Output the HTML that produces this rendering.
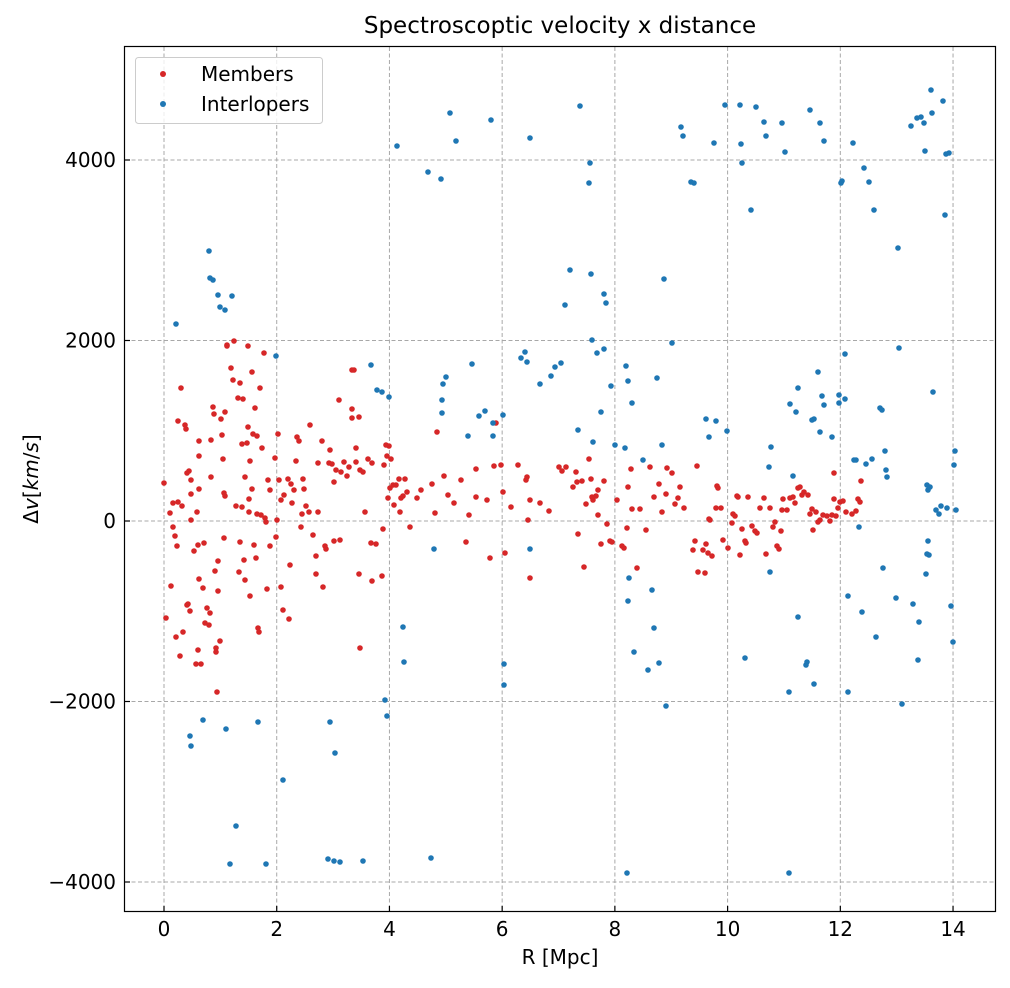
<!DOCTYPE html>
<html><head><meta charset="utf-8"><style>
body{margin:0;background:#fff;}
svg text{font-family:"DejaVu Sans","Liberation Sans",sans-serif;fill:#000;}
</style></head><body>
<svg id="s" width="1010" height="983" xmlns="http://www.w3.org/2000/svg">
<rect width="1010" height="983" fill="#fff"/>
<g id="grid" stroke="#a8a8a8" stroke-width="1" stroke-dasharray="4,2.5"></g>
<g id="pts"></g>
<rect x="124.5" y="46.5" width="871" height="865" fill="none" stroke="#000" stroke-width="1.2"/>
<g id="ticks" stroke="#000" stroke-width="1.2"></g>
<g id="labels" font-size="20"></g>
<text x="560" y="33" font-size="23" text-anchor="middle">Spectroscoptic velocity x distance</text>
<text x="560" y="964" font-size="20" text-anchor="middle">R [Mpc]</text>
<text transform="translate(38,479) rotate(-90)" font-size="20" text-anchor="middle">Δ<tspan font-style="italic">v</tspan>[<tspan font-style="italic">km</tspan>/<tspan font-style="italic">s</tspan>]</text>
<rect x="135.5" y="57.5" width="187" height="66" rx="3" fill="#fff" fill-opacity="0.8" stroke="#ccc"/>
<circle cx="163" cy="74" r="3" fill="#d62728"/>
<circle cx="163" cy="104" r="3" fill="#1f77b4"/>
<text x="201" y="81" font-size="20">Members</text>
<text x="201" y="111" font-size="20">Interlopers</text>
</svg>
<script>
var NS="http://www.w3.org/2000/svg";
function el(p,t,a){var e=document.createElementNS(NS,t);for(var k in a)e.setAttribute(k,a[k]);p.appendChild(e);return e;}
var g=document.getElementById('grid'),tk=document.getElementById('ticks'),lb=document.getElementById('labels');
function X(v){return 164+v*56.36;} function Y(v){return 521-v*0.09025;}
for(var v=0;v<=14;v+=2){var x=X(v);el(g,'line',{x1:x,x2:x,y1:47,y2:911});el(tk,'line',{x1:x,x2:x,y1:912,y2:906});var t=el(lb,'text',{x:x,y:936,'text-anchor':'middle'});t.textContent=v;}
for(var v=-4000;v<=4000;v+=2000){var y=Y(v);el(g,'line',{x1:125,x2:995,y1:y,y2:y});el(tk,'line',{x1:124,x2:130,y1:y,y2:y});var t=el(lb,'text',{x:116,y:y+7,'text-anchor':'end'});t.textContent=(v<0?'\u2212'+(-v):v);}
var B=[176,324,190,736,191,746,203,720,209,251,210,278,213,280,218,295,220,307,225,310,226,729,232,296,230,864,236,826,258,722,266,864,276,356,283,780,330,722,328,859,334,861,340,862,335,753,363,861,371,365,377,390,382,392,389,397,385,700,387,716,397,146,403,627,404,662,428,172,431,858,434,549,441,179,442,400,442,413,443,384,446,377,450,113,456,141,468,436,472,364,479,416,485,411,491,120,493,423,493,436,503,415,504,664,504,685,521,358,525,352,527,362,530,138,530,549,540,384,551,376,555,367,561,363,565,305,570,270,578,430,580,106,589,183,590,163,591,274,592,340,593,442,597,353,601,412,604,294,604,349,606,303,611,386,615,445,625,448,626,366,627,873,628,381,628,601,629,578,632,403,634,652,643,460,648,670,652,590,654,628,657,378,659,663,662,445,664,279,666,706,672,343,681,127,683,136,691,182,694,183,706,419,709,437,714,143,716,421,725,105,727,431,740,105,741,144,742,163,745,658,751,210,756,107,764,122,766,136,769,467,770,572,771,447,782,123,785,152,789,692,789,873,790,404,793,476,796,412,798,388,798,617,806,665,807,662,810,110,812,420,814,419,814,684,818,372,820,123,820,432,822,396,824,141,824,405,832,437,839,403,839,395,841,183,842,181,845,354,845,399,848,596,848,692,853,143,854,460,856,460,859,527,862,612,864,168,866,464,869,182,872,459,874,210,876,637,880,408,882,410,883,568,886,470,887,477,885,451,896,598,898,248,899,348,902,704,911,126,913,604,917,118,919,622,918,660,921,117,924,123,925,151,928,541,929,555,926,574,927,554,927,485,928,490,930,487,931,90,932,113,933,392,936,510,939,514,941,506,943,101,945,215,946,154,947,508,949,153,951,606,953,642,954,465,955,451,956,510];
var R=[164,483,166,618,170,513,171,586,173,503,173,527,175,536,176,637,177,546,178,421,178,502,180,656,181,388,182,506,183,632,185,425,186,429,187,605,187,473,188,604,189,471,190,611,191,480,191,494,191,520,194,551,197,512,196,664,198,650,199,441,199,456,199,489,198,545,199,579,201,664,203,588,204,543,205,623,207,608,209,625,210,613,211,477,211,440,213,407,214,414,215,571,216,648,216,652,217,692,218,561,218,591,220,641,221,419,222,435,223,459,224,493,224,538,225,412,225,496,227,345,227,346,231,368,233,380,234,341,236,506,238,398,239,572,240,542,240,383,242,507,242,444,243,399,244,560,245,580,245,477,247,443,248,346,248,427,249,499,249,512,250,596,250,461,252,372,252,489,253,434,254,545,255,408,256,558,257,436,257,514,258,628,259,632,260,388,261,515,262,448,264,353,265,518,266,522,267,589,268,480,270,490,270,546,275,458,276,537,277,520,278,434,279,480,281,500,281,587,283,610,284,495,288,479,289,619,290,565,291,484,292,503,294,490,296,461,297,437,299,441,301,527,302,514,303,479,304,489,306,506,309,512,310,425,313,535,316,574,316,556,318,512,318,463,322,441,323,587,325,546,326,549,329,463,330,450,332,464,334,482,334,541,336,470,339,400,340,540,341,472,344,462,347,476,349,467,352,370,352,409,352,418,354,370,356,448,356,462,359,417,359,574,360,648,360,470,363,472,365,512,368,459,371,543,372,581,372,463,376,544,382,576,383,529,384,465,386,445,387,456,388,498,389,446,390,488,391,459,393,485,394,505,396,485,399,479,400,512,401,498,403,496,405,479,407,492,410,527,417,498,421,490,432,484,435,513,437,432,444,476,448,495,454,503,461,480,466,542,469,515,476,469,476,497,487,500,490,558,494,466,496,423,501,465,503,492,505,553,511,507,518,465,526,480,527,477,528,520,530,500,530,578,540,503,549,511,559,467,562,471,566,467,573,487,576,472,577,482,578,534,582,481,584,567,586,504,589,459,591,479,592,497,593,500,596,496,598,490,598,515,601,544,604,481,607,524,610,541,612,542,617,500,622,546,624,548,627,528,628,487,631,469,632,509,637,568,640,509,646,530,650,467,654,497,659,484,662,512,666,494,667,468,672,473,675,504,678,498,680,487,684,508,693,550,695,541,697,466,698,572,703,550,705,573,706,544,708,553,709,519,710,520,712,556,716,508,717,486,718,488,721,508,723,540,728,548,732,523,733,514,735,516,737,496,738,497,740,555,742,529,745,541,746,543,748,497,752,526,755,531,757,533,760,508,764,498,766,554,770,508,773,527,775,522,777,546,779,549,781,531,782,510,783,499,787,510,790,498,793,497,795,503,798,488,800,487,802,495,804,492,808,495,810,514,812,509,813,530,816,512,818,522,820,520,823,515,827,516,830,521,832,515,834,473,834,499,836,516,838,508,840,502,843,501,846,512,852,514,856,511,858,499,860,502,861,481];
var p=document.getElementById('pts');
for(var i=0;i<R.length;i+=2)el(p,'circle',{cx:R[i],cy:R[i+1],r:2.8,fill:'#d62728'});
for(var i=0;i<B.length;i+=2)el(p,'circle',{cx:B[i],cy:B[i+1],r:2.8,fill:'#1f77b4'});
</script>
</body></html>
